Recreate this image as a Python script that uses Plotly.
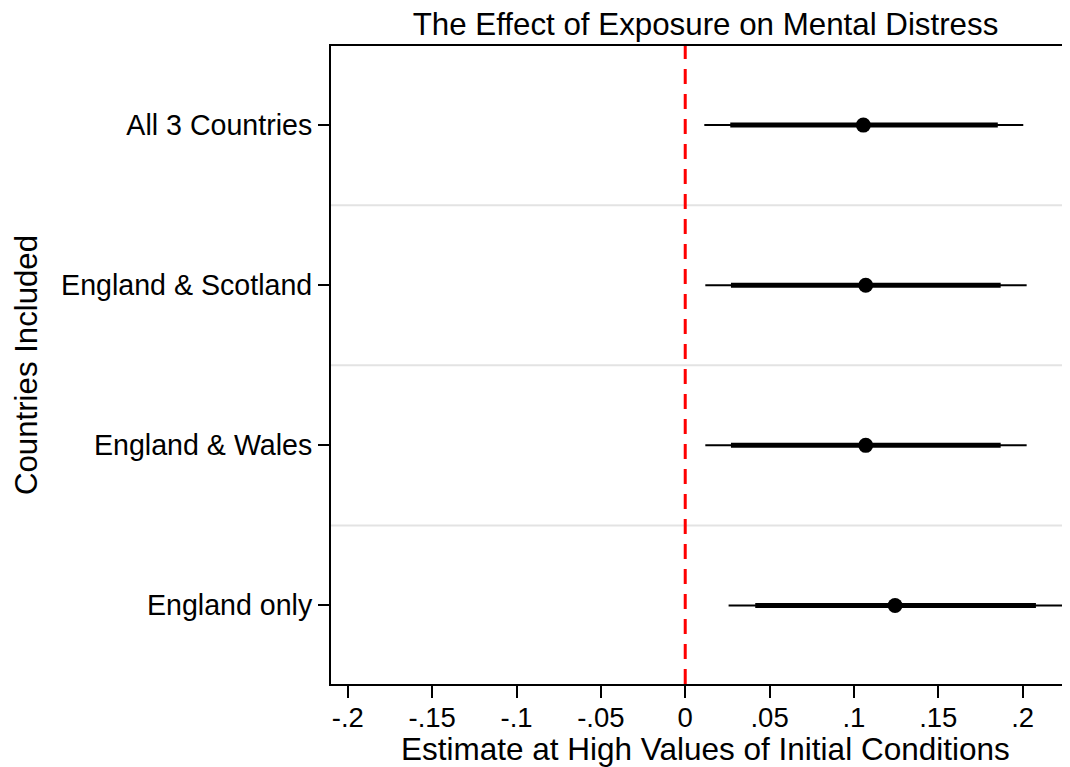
import plotly.graph_objects as go

categories = ["All 3 Countries", "England & Scotland", "England & Wales", "England only"]
estimate = [0.1056, 0.1070, 0.1070, 0.1244]
ci95_lo = [0.0113, 0.0119, 0.0119, 0.0257]
ci95_hi = [0.2004, 0.2024, 0.2024, 0.2237]
ci90_lo = [0.0267, 0.0271, 0.0271, 0.0415]
ci90_hi = [0.1853, 0.1870, 0.1870, 0.2079]
x_ticks = [-0.2, -0.15, -0.1, -0.05, 0, 0.05, 0.1, 0.15, 0.2]
x_tick_text = ["-.2", "-.15", "-.1", "-.05", "0", ".05", ".1", ".15", ".2"]

FONT = "Liberation Sans, Arial, sans-serif"

# the page body adds an 8px margin; size the figure so it fills the 1070x767 window
W, H = 1062, 759
L, T, B, R = 323, 38, 83, 0

fig = go.Figure()

def seg(lo, hi, cats):
    xs, ys = [], []
    for a, b, c in zip(lo, hi, cats):
        xs += [a, b, None]
        ys += [c, c, None]
    return xs, ys

x95, y95 = seg(ci95_lo, ci95_hi, categories)
fig.add_trace(go.Scatter(x=x95, y=y95, mode="lines", line=dict(color="black", width=2),
                         hoverinfo="skip", showlegend=False))
x90, y90 = seg(ci90_lo, ci90_hi, categories)
fig.add_trace(go.Scatter(x=x90, y=y90, mode="lines", line=dict(color="black", width=5),
                         hoverinfo="skip", showlegend=False))
fig.add_trace(go.Scatter(x=estimate, y=categories, mode="markers",
                         marker=dict(color="black", size=15), showlegend=False))

# separators between categories
for i in range(len(categories) - 1):
    fig.add_shape(type="line", xref="paper", yref="y", x0=0, x1=1, y0=i + 0.5, y1=i + 0.5,
                  line=dict(color="#e3e3e3", width=2), layer="below")

# reference line at zero
fig.add_shape(type="line", xref="x", yref="paper", x0=0, x1=0, y0=0, y1=1,
              line=dict(color="#ff0000", width=3, dash="15px,10px"))

# axis titles
fig.add_annotation(text="Estimate at High Values of Initial Conditions", xref="paper", yref="paper",
                   x=0.5, y=0, xanchor="center", yanchor="middle", xshift=5, yshift=-65,
                   showarrow=False, font=dict(size=31.5, family=FONT, color="black"))
fig.add_annotation(text="Countries Included", xref="paper", yref="paper",
                   x=0, y=0.5, xanchor="center", yanchor="middle", xshift=-(L - 18),
                   textangle=-90, showarrow=False,
                   font=dict(size=31.2, family=FONT, color="black"))

fig.update_layout(
    width=W, height=H,
    margin=dict(l=L, r=R, t=T, b=B),
    paper_bgcolor="white", plot_bgcolor="white",
    font=dict(family=FONT, color="black", size=28),
    title=dict(text="The Effect of Exposure on Mental Distress", x=0.6568, xanchor="center",
               xref="container", y=1 - 16 / H, yanchor="middle",
               font=dict(size=31.3, family=FONT, color="black")),
)
fig.update_xaxes(
    range=[-0.2100, 0.2281], tickvals=x_ticks, ticktext=x_tick_text,
    showgrid=False, zeroline=False, showline=True, mirror=True, linecolor="black", linewidth=2,
    ticks="outside", ticklen=12, tickwidth=2, tickcolor="black",
    tickfont=dict(size=27.5), automargin=False, ticklabelstandoff=-4,
)
fig.update_yaxes(
    categoryorder="array", categoryarray=categories[::-1],
    range=[-0.4906, 3.494],
    showgrid=False, zeroline=False, showline=True, linecolor="black", linewidth=2,
    ticks="outside", ticklen=11, tickwidth=2, tickcolor="black",
    tickfont=dict(size=28.6), automargin=False, ticklabelstandoff=0,
)

fig.write_html("out.html")
